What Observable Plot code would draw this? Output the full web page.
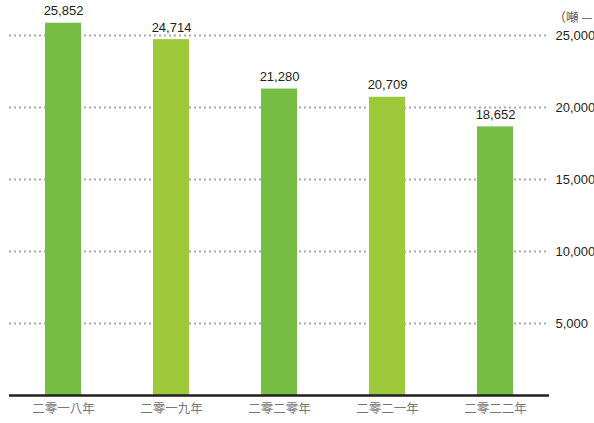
<!DOCTYPE html>
<html>
<head>
<meta charset="utf-8">
<script src="https://cdn.jsdelivr.net/npm/d3@7"></script>
<script src="https://cdn.jsdelivr.net/npm/@observablehq/plot@0.6"></script>
<style>
  html, body { margin: 0; padding: 0; background: #fff; }
  #chart svg { display: block; }
</style>
</head>
<body>
<div id="chart"></div>
<script>
const years = ["二零一八年", "二零一九年", "二零二零年", "二零二一年", "二零二二年"];
const values = [25852, 24714, 21280, 20709, 18652];
const barColors = ["#76bd43", "#9dc93b", "#76bd43", "#9dc93b", "#76bd43"];
const yTicks = [5000, 10000, 15000, 20000, 25000];
const unitLabel = "（噸 —";

const data = years.map((y, i) => ({year: y, value: values[i], color: barColors[i]}));

const chart = Plot.plot({
  width: 594,
  height: 423,
  marginLeft: 9,
  marginRight: 45,
  marginTop: 35,
  marginBottom: 28,
  style: {fontFamily: "'Liberation Sans', Arial, 'Noto Sans CJK TC', sans-serif", fontSize: "12.5px", background: "#fff"},
  x: {domain: years, paddingInner: 2/3, paddingOuter: 1/3, label: null},
  y: {domain: [0, 25000], label: null},
  marks: [
    Plot.ruleY(yTicks, {stroke: "#aaaaaa", strokeWidth: 2, strokeDasharray: "2,3"}),
    Plot.barY(data, {x: "year", y: "value", fill: "color"}),
    Plot.text(data, {x: "year", y: "value", text: d => d3.format(",")(d.value), dy: -12, fill: "#231f20", fontSize: 13}),
    Plot.ruleY([0], {stroke: "#231f20", strokeWidth: 2.5}),
    Plot.axisY({anchor: "right", ticks: yTicks, tickSize: 0, tickPadding: 6, tickFormat: d3.format(","), fill: "#231f20", fontSize: 13, label: null}),
    Plot.axisX({tickSize: 0, tickPadding: 9, color: "#777777", fill: "#777777", fontSize: 12.5, fontFamily: "'Noto Sans CJK TC', sans-serif", label: null}),
    Plot.text([unitLabel], {frameAnchor: "top-right", dx: 4, dy: -22, textAnchor: "start", fill: "#555555", fontSize: 12.5, fontFamily: "'Noto Sans CJK TC', sans-serif"})
  ]
});
document.getElementById("chart").appendChild(chart);
</script>
</body>
</html>
